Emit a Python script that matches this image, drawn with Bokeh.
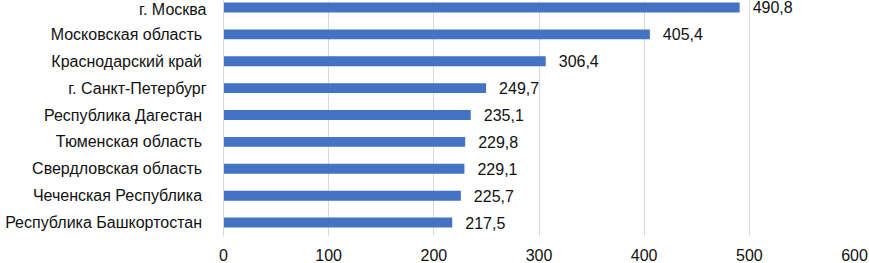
from bokeh.plotting import figure
from bokeh.models import Range1d, FixedTicker, ColumnDataSource
from bokeh.core.properties import value
from bokeh.embed import file_html
from bokeh.resources import INLINE

categories = [
    "г. Москва",
    "Московская  область",
    "Краснодарский  край",
    "г. Санкт-Петербург",
    "Республика  Дагестан",
    "Тюменская  область",
    "Свердловская  область",
    "Чеченская  Республика",
    "Республика  Башкортостан",
]
values = [490.8, 405.4, 306.4, 249.7, 235.1, 229.8, 229.1, 225.7, 217.5]
x_ticks = [0, 100, 200, 300, 400, 500, 600]

idx = list(range(len(categories)))
labels = [f"{v:.1f}".replace(".", ",") for v in values]
src = ColumnDataSource(dict(y=idx, v=values, lab=labels))

FONT = "Liberation Sans"

p = figure(width=869, height=263, output_backend="svg", toolbar_location=None,
           x_range=Range1d(0, 600), y_range=Range1d(230 / 27, -7 / 27),
           min_border_left=223, min_border_right=15, min_border_top=0,
           min_border_bottom=26)
p.outline_line_color = None
p.background_fill_color = "white"
p.border_fill_color = "white"

p.hbar(y="y", left=0, right="v", height=0.37, source=src,
       fill_color="#4472C4", line_color=None)
p.text(x="v", y="y", text="lab", source=src, x_offset=13,
       text_font=value(FONT), text_font_size="16px", text_color="#111111",
       text_baseline="middle", text_align="left")

p.xaxis.ticker = FixedTicker(ticks=x_ticks)
p.xaxis.axis_line_color = None
p.xaxis.major_tick_line_color = None
p.xaxis.minor_tick_line_color = None
p.xaxis.major_tick_out = 0
p.xaxis.major_tick_in = 0
p.xaxis.major_label_text_font = FONT
p.xaxis.major_label_text_font_size = "16px"
p.xaxis.major_label_text_color = "#111111"
p.xaxis.major_label_standoff = 12

p.yaxis.ticker = FixedTicker(ticks=idx)
p.yaxis.major_label_overrides = {i: c for i, c in zip(idx, categories)}
p.yaxis.axis_line_color = "#d9d9d9"
p.yaxis.axis_line_width = 1
p.yaxis.major_tick_line_color = None
p.yaxis.minor_tick_line_color = None
p.yaxis.major_tick_out = 0
p.yaxis.major_tick_in = 0
p.yaxis.major_label_text_font = FONT
p.yaxis.major_label_text_font_size = "16px"
p.yaxis.major_label_text_color = "#111111"
p.yaxis.major_label_standoff = 17

p.xgrid.ticker = FixedTicker(ticks=x_ticks)
p.xgrid.grid_line_color = "#d9d9d9"
p.xgrid.grid_line_width = 1
p.ygrid.grid_line_color = None

open("out.html", "w").write(file_html(p, INLINE))
